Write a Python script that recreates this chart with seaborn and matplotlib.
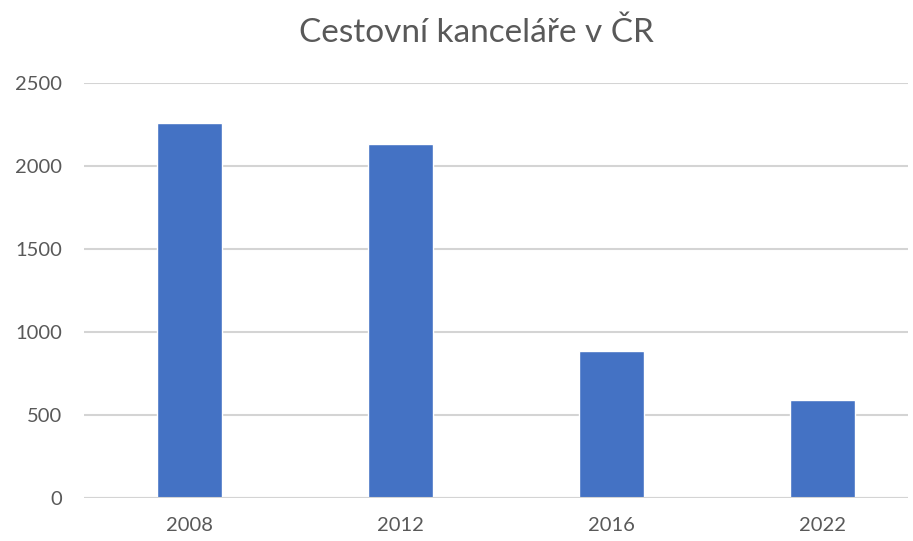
import matplotlib
matplotlib.use("Agg")
import matplotlib.pyplot as plt
import seaborn as sns
import pandas as pd

# Travel agencies in the Czech Republic by year
years = ["2008", "2012", "2016", "2022"]
agencies = [2257, 2133, 884, 590]
y_ticks = [0, 500, 1000, 1500, 2000, 2500]

sns.set_theme(style="white")
plt.rcParams["font.family"] = ["Lato", "DejaVu Sans"]

df = pd.DataFrame({"rok": years, "pocet": agencies})

fig = plt.figure(figsize=(9.13, 5.41), dpi=100)
ax = fig.add_axes([84 / 913, 43 / 541, (908 - 84) / 913, 415 / 541])

sns.barplot(data=df, x="rok", y="pocet", color="#4472C4", width=0.31,
            saturation=1, ax=ax, zorder=3)

ax.set_ylim(0, 2500)
ax.set_xlim(-0.5, -0.5 + (908 - 84) / 211)
ax.set_yticks(y_ticks)
ax.set_yticklabels([str(t) for t in y_ticks])
ax.yaxis.grid(True, color="#D4D4D4", linewidth=1.5, zorder=0)
ax.set_axisbelow(True)
for s in ax.spines.values():
    s.set_visible(False)
ax.axhline(0, color="#D4D4D4", linewidth=1.5, zorder=4)

ax.set_xlabel("")
ax.set_ylabel("")
ax.tick_params(axis="both", length=0, labelsize=14.5, labelcolor="#595959")
ax.tick_params(axis="y", pad=16)
ax.tick_params(axis="x", pad=14)

fig.text(476 / 913, 1 - 33 / 541, "Cestovní kanceláře v ČR", ha="center",
         va="center", fontsize=24, color="#595959")

fig.savefig("out.png", dpi=100)
